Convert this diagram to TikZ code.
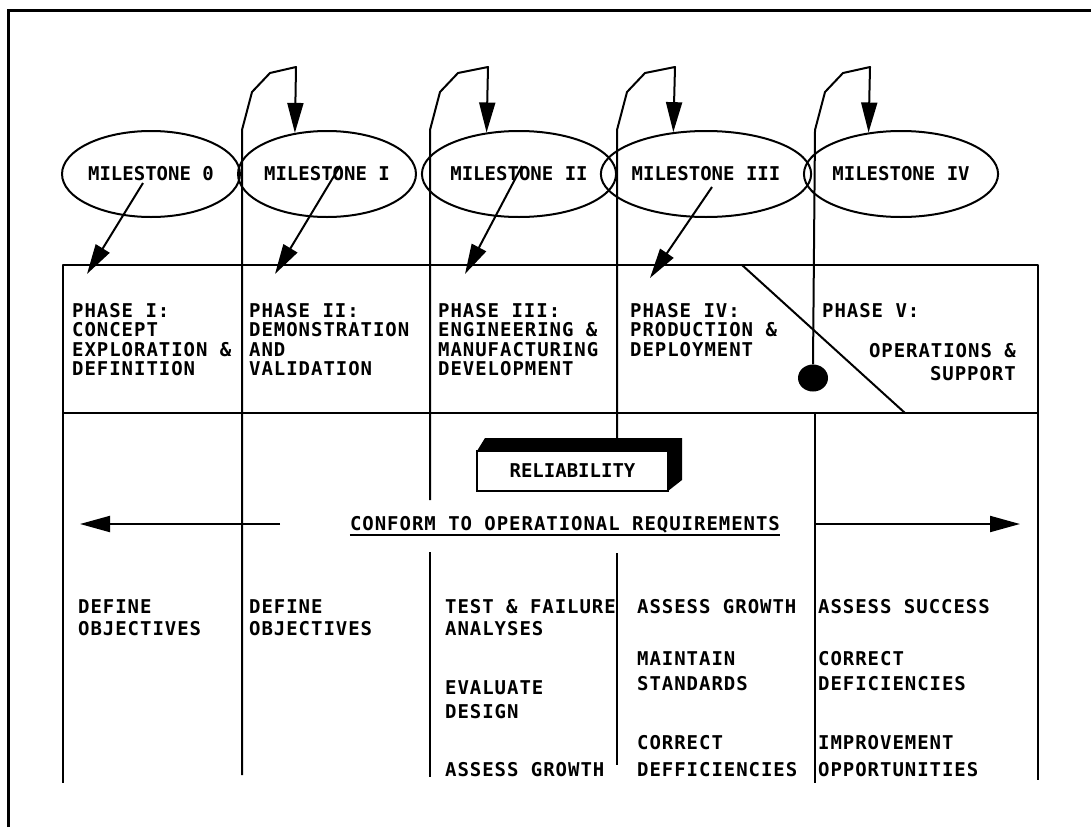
\documentclass[tikz,border=0pt]{standalone}
\usepackage{fontspec}
\newfontfamily\plotfont{DejaVu Sans Mono}[LetterSpace=5]
\newfontfamily\msfont{DejaVu Sans Mono}
\usetikzlibrary{arrows.meta,shapes.geometric}
\tikzset{
  txt/.style={font=\plotfont\bfseries\fontsize{19}{21}\selectfont, inner sep=0pt, anchor=base west},
  rtxt/.style={txt, anchor=base east},
  ln/.style={line width=2pt, line join=round},
  frame/.style={line width=3pt},
  ms/.style={ellipse, draw, line width=2pt, minimum width=162pt, minimum height=86pt, inner sep=0pt,
    font=\msfont\bfseries\fontsize{19}{21}\selectfont},
  arr/.style={line width=2pt, line join=round, -{Triangle[length=30pt,width=16pt]}},
  relbox/.style={draw, fill=white, line width=2pt, minimum width=191pt, minimum height=40pt, inner sep=0pt,
    font=\msfont\bfseries\fontsize{19}{21}\selectfont},
  dotnode/.style={ellipse, fill, minimum width=30pt, minimum height=27pt, inner sep=0pt},
}
\begin{document}
\begin{tikzpicture}[x=1pt,y=-1pt]
\useasboundingbox (0,0) rectangle (1091,827);
% outer frame
\draw[frame] (8,827) -- (8,10) -- (1091,10);

% milestones
\node[ms] (m0) at (151,174) {MILESTONE 0};
\node[ms] (m1) at (327,174) {MILESTONE I};
\node[ms] (m2) at (519,174) {MILESTONE II};
\node[ms] (m3) at (706,174) {MILESTONE III};
\node[ms] (m4) at (901,174) {MILESTONE IV};

% phase box
\draw[ln] (63,265) rectangle (1038,413);
\draw[ln] (63,413) -- (63,783);
\draw[ln] (1038,413) -- (1038,780);

% dot and slanted line
\node[dotnode] (dot) at (813,378) {};
\coordinate (s1) at (742,265);
\coordinate (s2) at (905,413);
\draw[ln] (s1) -- (s2);

% dividers with loops to milestones
\coordinate (b1) at (242,775);
\coordinate (b2) at (430,500);
\coordinate (b3) at (617,438);
\draw[arr] (b1) -- (242,130) -- (252,92) -- (270,73) -- (296,67) -- (m1.128);
\draw[arr] (b2) -- (430,130) -- (440,92) -- (458,73) -- (488,67) -- (m2.128);
\draw[arr] (b3) -- (617,130) -- (627,92) -- (645,73) -- (675,67) -- (m3.128);
\draw[arr] (dot.north) -- (815,130) -- (825,92) -- (843,73) -- (870,67) -- (m4.128);

% lower vertical lines
\draw[ln] (430,552) -- (430,777);
\draw[ln] (617,553) -- (617,765);
\draw[ln] (815,413) -- (815,783);

% milestone arrows into phases
\coordinate (t0) at (87,274);
\coordinate (t1) at (275,274);
\coordinate (t2) at (465,274);
\coordinate (t3) at (650,278);
\draw[arr] ([shift={(-8,9)}]m0.center) -- (t0);
\draw[arr] ([shift={(13,-8)}]m1.center) -- (t1);
\draw[arr] ([shift={(3,-8)}]m2.center) -- (t2);
\draw[arr] ([shift={(6,13)}]m3.center) -- (t3);

% phase texts
\node[txt] (p1a) at (72,317) {PHASE I:};
\node[txt] (p1b) at (72,336.5) {CONCEPT};
\node[txt] (p1c) at (72,356) {EXPLORATION \&};
\node[txt] (p1d) at (72,375.5) {DEFINITION};
\node[txt] (p2a) at (249,317) {PHASE II:};
\node[txt] (p2b) at (249,336.5) {DEMONSTRATION};
\node[txt] (p2c) at (249,356) {AND};
\node[txt] (p2d) at (249,375.5) {VALIDATION};
\node[txt] (p3a) at (438,317) {PHASE III:};
\node[txt] (p3b) at (438,336.5) {ENGINEERING \&};
\node[txt] (p3c) at (438,356) {MANUFACTURING};
\node[txt] (p3d) at (438,375.5) {DEVELOPMENT};
\node[txt] (p4a) at (630,317) {PHASE IV:};
\node[txt] (p4b) at (630,336.5) {PRODUCTION \&};
\node[txt] (p4c) at (630,356) {DEPLOYMENT};
\node[txt] (p5a) at (822,317) {PHASE V:};
\node[rtxt] (p5b) at (1016,357) {OPERATIONS \&};
\node[rtxt] (p5c) at (1016,380) {SUPPORT};

% reliability box
\fill (477,451) -- (485,438) -- (682,438) -- (682,480) -- (668,491) -- cycle;
\node[relbox] (rel) at (572.5,471) {RELIABILITY};

% conform arrows
\node[txt, anchor=base] (conf) at (565,530) {CONFORM TO OPERATIONAL REQUIREMENTS};
\draw[line width=1.5pt] ([yshift=-5pt]conf.base west) -- ([yshift=-5pt]conf.base east);
\coordinate (la) at (280,524);
\coordinate (lt) at (80,524);
\coordinate (ra) at (815,524);
\coordinate (rt) at (1020,524);
\draw[arr] (la) -- (lt);
\draw[arr] (ra) -- (rt);

% lower texts
\node[txt] (d1a) at (78,613) {DEFINE};
\node[txt] (d1b) at (78,635) {OBJECTIVES};
\node[txt] (d2a) at (249,613) {DEFINE};
\node[txt] (d2b) at (249,635) {OBJECTIVES};
\node[txt] (d3a) at (445,613) {TEST \& FAILURE};
\node[txt] (d3b) at (445,635) {ANALYSES};
\node[txt] (d3c) at (445,694) {EVALUATE};
\node[txt] (d3d) at (445,718) {DESIGN};
\node[txt] (d3e) at (445,776) {ASSESS GROWTH};
\node[txt] (d4a) at (637,613) {ASSESS GROWTH};
\node[txt] (d4b) at (637,665) {MAINTAIN};
\node[txt] (d4c) at (637,690) {STANDARDS};
\node[txt] (d4d) at (637,749) {CORRECT};
\node[txt] (d4e) at (637,776) {DEFFICIENCIES};
\node[txt] (d5a) at (818,613) {ASSESS SUCCESS};
\node[txt] (d5b) at (818,665) {CORRECT};
\node[txt] (d5c) at (818,690) {DEFICIENCIES};
\node[txt] (d5d) at (818,749) {IMPROVEMENT};
\node[txt] (d5e) at (818,776) {OPPORTUNITIES};
\end{tikzpicture}
\end{document}
